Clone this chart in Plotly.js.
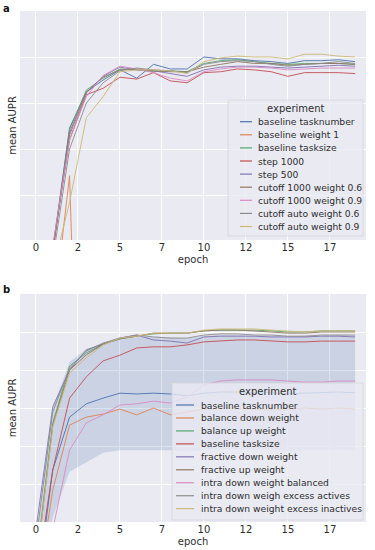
<!DOCTYPE html>
<html><head><meta charset="utf-8">
<script src="https://cdn.plot.ly/plotly-3.0.1.min.js"></script>
<style>html,body{margin:0;padding:0;background:#fff}#chart{width:375px;height:550px}</style>
</head><body><div id="chart"></div>
<script>
// ---------- data ----------
const epochsA = [1,2,3,4,5,6,7,8,9,10,11,12,13,14,15,16,17,18,19];
const epochsB = [0,1,2,3,4,5,6,7,8,9,10,11,12,13,14,15,16,17,18,19];
const tickVals = [0,2.5,5,7.5,10,12.5,15,17.5];
const tickText = ["0","2","5","7","10","12","15","17"];

const namesA = ["baseline tasknumber","baseline weight 1","baseline tasksize","step 1000","step 500",
  "cutoff 1000 weight 0.6","cutoff 1000 weight 0.9","cutoff auto weight 0.6","cutoff auto weight 0.9"];
const namesB = ["baseline tasknumber","balance down weight","balance up weight","baseline tasksize",
  "fractive down weight","fractive up weight","intra down weight balanced",
  "intra down weigh excess actives","intra down weight excess inactives"];
const palette = ["#4C72B0","#DD8452","#55A868","#C44E52","#8172B3","#937860","#DA8BC3","#8C8C8C","#CCB974"];

// panel a: mean AUPR per epoch (1..19)
const aBaselineTasknumber = [0.490,0.623,0.662,0.675,0.686,0.677,0.692,0.687,0.687,0.700,0.698,0.698,0.696,0.695,0.693,0.696,0.696,0.697,0.695];
const aBaselineWeight1    = [0.413,0.571,0.000,0.010,0.010,0.010,0.010,0.010,0.010,0.010,0.010,0.010,0.010,0.010,0.010,0.010,0.010,0.010,0.010];
const aBaselineTasksize   = [0.488,0.621,0.664,0.677,0.687,0.686,0.684,0.685,0.684,0.693,0.696,0.697,0.695,0.693,0.692,0.693,0.693,0.693,0.692];
const aStep1000           = [0.492,0.610,0.659,0.666,0.678,0.676,0.683,0.674,0.672,0.683,0.684,0.687,0.686,0.684,0.679,0.683,0.683,0.683,0.682];
const aStep500            = [0.490,0.615,0.661,0.679,0.689,0.686,0.685,0.682,0.679,0.686,0.689,0.690,0.690,0.689,0.688,0.689,0.690,0.691,0.690];
const aCutoff1000w06      = [0.488,0.618,0.662,0.678,0.686,0.687,0.685,0.684,0.684,0.689,0.692,0.695,0.693,0.693,0.691,0.692,0.693,0.693,0.692];
const aCutoff1000w09      = [0.495,0.610,0.657,0.680,0.690,0.687,0.683,0.677,0.674,0.684,0.687,0.689,0.689,0.688,0.686,0.687,0.688,0.688,0.688];
const aCutoffAutoW06      = [0.480,0.600,0.650,0.672,0.685,0.688,0.686,0.685,0.683,0.692,0.695,0.696,0.695,0.692,0.690,0.692,0.693,0.695,0.693];
const aCutoffAutoW09      = [0.468,0.542,0.634,0.657,0.684,0.686,0.686,0.685,0.682,0.695,0.699,0.701,0.700,0.700,0.698,0.703,0.703,0.701,0.700];

// panel b: mean AUPR per epoch (0..19)
const bBaselineTasknumber   = [0.000,0.337,0.476,0.511,0.526,0.539,0.537,0.539,0.537,0.532,0.539,0.542,0.542,0.540,0.540,0.537,0.539,0.540,0.542,0.540];
const bBaselineTasknumberHi = [0.150,0.500,0.621,0.655,0.672,0.686,0.686,0.688,0.686,0.683,0.690,0.693,0.693,0.690,0.690,0.688,0.690,0.690,0.693,0.690];
const bBaselineTasknumberLo = [0.000,0.213,0.332,0.357,0.382,0.389,0.389,0.390,0.389,0.385,0.389,0.391,0.391,0.390,0.390,0.387,0.389,0.390,0.391,0.389];
const bBalanceDown     = [0.000,0.284,0.455,0.476,0.484,0.497,0.482,0.500,0.482,0.490,0.497,0.500,0.500,0.497,0.495,0.497,0.500,0.497,0.500,0.497];
const bBalanceUp       = [0.090,0.460,0.610,0.645,0.668,0.682,0.689,0.695,0.697,0.697,0.703,0.705,0.705,0.705,0.703,0.700,0.700,0.703,0.703,0.703];
const bBaselineTasksize= [0.042,0.337,0.526,0.582,0.624,0.639,0.658,0.661,0.661,0.666,0.674,0.676,0.679,0.679,0.676,0.674,0.674,0.676,0.676,0.676];
const bFractiveDown    = [0.180,0.503,0.600,0.653,0.668,0.684,0.692,0.679,0.676,0.671,0.687,0.689,0.689,0.689,0.687,0.687,0.687,0.689,0.689,0.687];
const bFractiveUp      = [0.080,0.455,0.600,0.640,0.668,0.682,0.689,0.697,0.697,0.697,0.703,0.705,0.705,0.703,0.700,0.697,0.697,0.700,0.700,0.700];
const bIntraBalanced   = [0.100,0.180,0.389,0.461,0.482,0.508,0.511,0.518,0.513,0.529,0.561,0.571,0.574,0.574,0.574,0.571,0.568,0.568,0.571,0.571];
const bIntraActives    = [0.150,0.490,0.605,0.650,0.671,0.684,0.692,0.687,0.684,0.684,0.692,0.695,0.695,0.692,0.692,0.689,0.689,0.692,0.692,0.692];
const bIntraInactives  = [0.080,0.450,0.592,0.632,0.666,0.684,0.689,0.697,0.697,0.697,0.705,0.708,0.708,0.708,0.705,0.703,0.700,0.703,0.703,0.703];

const seriesA = [aBaselineTasknumber,aBaselineWeight1,aBaselineTasksize,aStep1000,aStep500,aCutoff1000w06,aCutoff1000w09,aCutoffAutoW06,aCutoffAutoW09];
const seriesB = [bBaselineTasknumber,bBalanceDown,bBalanceUp,bBaselineTasksize,bFractiveDown,bFractiveUp,bIntraBalanced,bIntraActives,bIntraInactives];

// ---------- layout helpers ----------
const W = 375, H = 550, ML = 20, MR = 9, MT = 11, MB = 28;
const PW = W - ML - MR, PH = H - MT - MB;
const X = px => (px - ML) / PW;
const Y = py => (H - MB - py) / PH;
const TXT = "#2e2e2e";
const FONT = "DejaVu Sans, sans-serif";

const traces = [];
// confidence band for baseline tasknumber (panel b)
traces.push({x: epochsB, y: bBaselineTasknumberLo, xaxis:"x2", yaxis:"y2", mode:"lines",
  line:{width:0, color:"rgba(0,0,0,0)"}, showlegend:false, hoverinfo:"skip"});
traces.push({x: epochsB, y: bBaselineTasknumberHi, xaxis:"x2", yaxis:"y2", mode:"lines",
  fill:"tonexty", fillcolor:"rgba(76,114,176,0.2)", line:{width:0, color:"rgba(0,0,0,0)"}, showlegend:false, hoverinfo:"skip"});

seriesA.forEach((s,i) => traces.push({x: epochsA, y: s, name: namesA[i], mode:"lines", opacity:0.9,
  xaxis:"x", yaxis:"y", line:{color: palette[i], width:1.0}, showlegend:false}));
seriesB.forEach((s,i) => traces.push({x: epochsB, y: s, name: namesB[i], mode:"lines", opacity:0.9,
  xaxis:"x2", yaxis:"y2", line:{color: palette[i], width:1.0}, showlegend:false}));

// compact seaborn-like legends
const shapes = [], annotations = [];
function legend(names, box, titleXY, firstY, step, sx0, sx1, tx){
  shapes.push({type:"rect", xref:"paper", yref:"paper", x0:X(box[0]), x1:X(box[2]), y0:Y(box[3]), y1:Y(box[1]),
    fillcolor:"rgba(234,234,242,0.8)", line:{color:"rgba(212,212,218,0.9)", width:0.8}, layer:"above"});
  annotations.push({xref:"paper", yref:"paper", x:X(titleXY[0]), y:Y(titleXY[1]), text:"experiment",
    showarrow:false, xanchor:"center", yanchor:"middle", borderpad:0, font:{family:FONT, size:10, color:TXT}});
  names.forEach((n,i) => {
    const yy = firstY + i*step;
    shapes.push({type:"line", xref:"paper", yref:"paper", x0:X(sx0), x1:X(sx1), y0:Y(yy), y1:Y(yy),
      line:{color: palette[i], width:1.2}, layer:"above"});
    annotations.push({xref:"paper", yref:"paper", x:X(tx), y:Y(yy), text:n, showarrow:false,
      xanchor:"left", yanchor:"middle", borderpad:0, font:{family:FONT, size:9.2, color:TXT}});
  });
}
legend(namesA, [228,100,363,236], [296,108], 121.7, 13.1, 240, 252, 257);
legend(namesB, [172,383,363,520], [268,391], 405, 12.96, 176, 194, 200);

annotations.push({xref:"paper", yref:"paper", x:X(6), y:Y(9), text:"<b>a</b>", showarrow:false,
  xanchor:"center", yanchor:"middle", font:{family:FONT, size:10, color:"#111"}});
annotations.push({xref:"paper", yref:"paper", x:X(6), y:Y(289), text:"<b>b</b>", showarrow:false,
  xanchor:"center", yanchor:"middle", font:{family:FONT, size:10, color:"#111"}});

const xcommon = {range:[-0.95,19.65], tickmode:"array", tickvals: tickVals, ticktext: tickText,
  showgrid:true, gridcolor:"#ffffff", gridwidth:1, zeroline:false, showline:false, ticks:"",
  tickfont:{family:FONT, size:10, color:TXT}, automargin:false,
  title:{text:"epoch", font:{family:FONT, size:10, color:TXT}, standoff:3}};
const ycommon = {showgrid:true, gridcolor:"#ffffff", gridwidth:1, zeroline:false, showline:false, ticks:"",
  showticklabels:false, automargin:false,
  title:{text:"mean AUPR", font:{family:FONT, size:10, color:TXT}, standoff:0}};

const layout = {
  width: W, height: H, margin:{l:ML, r:MR, t:MT, b:MB},
  paper_bgcolor:"#ffffff", plot_bgcolor:"#EAEAF2", showlegend:false,
  font:{family:FONT, color:TXT},
  xaxis: Object.assign({}, xcommon, {anchor:"y", domain:[0,1]}),
  yaxis: Object.assign({}, ycommon, {anchor:"x", domain:[Y(240),1], range:[0.5011,0.75], dtick:0.05, tick0:0}),
  xaxis2: Object.assign({}, xcommon, {anchor:"y2", domain:[0,1]}),
  yaxis2: Object.assign({}, ycommon, {anchor:"x2", domain:[0,Y(294)], range:[0.2,0.8], dtick:0.1, tick0:0}),
  shapes: shapes, annotations: annotations
};
Plotly.newPlot("chart", traces, layout, {staticPlot:true, displayModeBar:false});
</script></body></html>
